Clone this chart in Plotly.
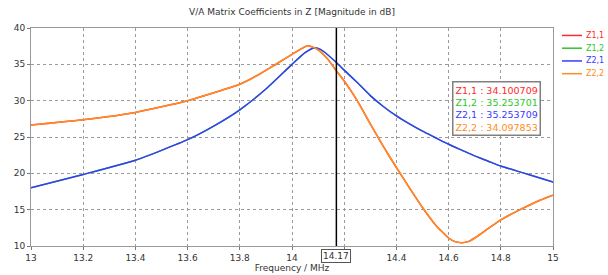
import plotly.graph_objects as go

# ---- data ----
freq_z21 = [13.0, 13.2, 13.4, 13.6, 13.7, 13.8, 13.9, 14.0, 14.05, 14.083, 14.1, 14.12,
            14.17, 14.2, 14.25, 14.3, 14.35, 14.4, 14.45, 14.5, 14.55, 14.6, 14.65, 14.7,
            14.75, 14.8, 14.9, 15.0]
z21 = [18.0, 19.84, 21.8, 24.63, 26.5, 28.74, 31.6, 35.0, 36.6, 37.25, 37.2, 36.8,
       35.25, 34.2, 32.5, 30.7, 29.2, 27.9, 26.8, 25.8, 24.9, 24.0, 23.2, 22.4,
       21.7, 21.0, 19.9, 18.8]
freq_z12 = list(freq_z21)
z12 = list(z21)

freq_z22 = [13.0, 13.2, 13.4, 13.6, 13.8, 13.868, 13.917, 14.0, 14.06, 14.096, 14.135,
            14.17, 14.2, 14.25, 14.3, 14.35, 14.4, 14.45, 14.5, 14.55, 14.6, 14.625,
            14.65, 14.675, 14.7, 14.75, 14.8, 14.874, 14.95, 15.0]
z22 = [26.64, 27.37, 28.38, 30.0, 32.26, 33.5, 34.54, 36.37, 37.56, 37.1, 35.8,
       34.1, 32.7, 30.0, 26.8, 23.7, 20.8, 18.0, 15.3, 12.9, 11.1, 10.6,
       10.45, 10.6, 11.1, 12.35, 13.6, 15.0, 16.3, 17.0]
freq_z11 = list(freq_z22)
z11 = list(z22)

marker_freq = 14.17
marker_names = ["Z1,1", "Z1,2", "Z2,1", "Z2,2"]
marker_vals = ["34.100709", "35.253701", "35.253709", "34.097853"]

x_ticks = [13, 13.2, 13.4, 13.6, 13.8, 14, 14.2, 14.4, 14.6, 14.8, 15]
y_ticks = [10, 15, 20, 25, 30, 35, 40]

colors = {"Z1,1": "#ff2a2a", "Z1,2": "#2ac82a", "Z2,1": "#3a3aff", "Z2,2": "#ff8c22"}

FONT = "DejaVu Sans"

# body margin is removed by the post script, so figure == window
W, H = 608, 275
# plot area in window pixels
PX0, PX1, PY0, PY1 = 31, 553, 27.5, 246.5
L, T = PX0, PY0
PW, PH = PX1 - PX0, PY1 - PY0
R, B = W - L - PW, H - T - PH


def px_x(p):
    return (p - PX0) / PW


def px_y(p):
    return 1 - (p - PY0) / PH


fig = go.Figure()
for name, fx, fy in [("Z1,1", freq_z11, z11), ("Z1,2", freq_z12, z12),
                     ("Z2,1", freq_z21, z21), ("Z2,2", freq_z22, z22)]:
    fig.add_trace(go.Scatter(x=fx, y=fy, mode="lines", name=name, showlegend=False,
                             line=dict(color=colors[name], width=1.5, shape="spline", smoothing=0.5)))

# marker line
fig.add_shape(type="line", x0=marker_freq, x1=marker_freq, y0=0, y1=1, yref="paper",
              line=dict(color="black", width=1.5))

# manual legend (right side)
for i, n in enumerate(marker_names):
    py = 35 + i * 12.8
    fig.add_shape(type="line", xref="paper", yref="paper",
                  x0=px_x(562), x1=px_x(582), y0=px_y(py), y1=px_y(py),
                  line=dict(color=colors[n], width=1.5))
    fig.add_annotation(x=px_x(584), y=px_y(py), xref="paper", yref="paper",
                       xanchor="left", yanchor="middle", text=n, showarrow=False,
                       font=dict(family=FONT, size=8, color=colors[n]))

# marker value box
box_text = "<br>".join(
    f"<span style='color:{colors[n]}'>{n} : {v}</span>" for n, v in zip(marker_names, marker_vals))
fig.add_annotation(x=px_x(452), y=px_y(80.5), xref="paper", yref="paper", xanchor="left", yanchor="top",
                   text=box_text, showarrow=False, align="left",
                   font=dict(family=FONT, size=9.5), bgcolor="white",
                   bordercolor="#808080", borderwidth=1.5, borderpad=2)

# marker frequency label on x axis
fig.add_annotation(x=marker_freq, y=px_y(257), xref="x", yref="paper", yanchor="middle",
                   text=f"{marker_freq:.2f}", showarrow=False,
                   font=dict(family=FONT, size=9, color="#333"), bgcolor="white",
                   bordercolor="#555", borderwidth=1, borderpad=1)

axis_common = dict(showline=True, linecolor="#999", linewidth=1, mirror=True,
                   showgrid=True, gridcolor="#9a9a9a", griddash="dot", gridwidth=1,
                   ticks="outside", ticklen=3, tickcolor="#777", zeroline=False,
                   automargin=False,
                   tickfont=dict(family=FONT, size=9, color="#333"))

x_ticktext = ["" if abs(v - 14.2) < 1e-9 else f"{v:g}" for v in x_ticks]

fig.update_layout(
    width=W, height=H, autosize=False,
    margin=dict(l=L, r=R, t=T, b=B, pad=0),
    paper_bgcolor="white", plot_bgcolor="white",
    title=dict(text="V/A Matrix Coefficients in Z [Magnitude in dB]",
               x=292 / W, xanchor="center", y=1 - 12 / H, yanchor="middle",
               font=dict(family=FONT, size=9, color="#333")),
    xaxis=dict(range=[13, 15], tickvals=x_ticks, ticktext=x_ticktext,
               title=dict(text="Frequency / MHz", standoff=0, font=dict(family=FONT, size=9, color="#333")),
               **axis_common),
    yaxis=dict(range=[10, 40], tickvals=y_ticks, **axis_common),
    showlegend=False,
)

fig.write_html("out.html", config={"displayModeBar": False},
               post_script="document.body.style.margin='0';document.body.style.overflow='hidden';")
